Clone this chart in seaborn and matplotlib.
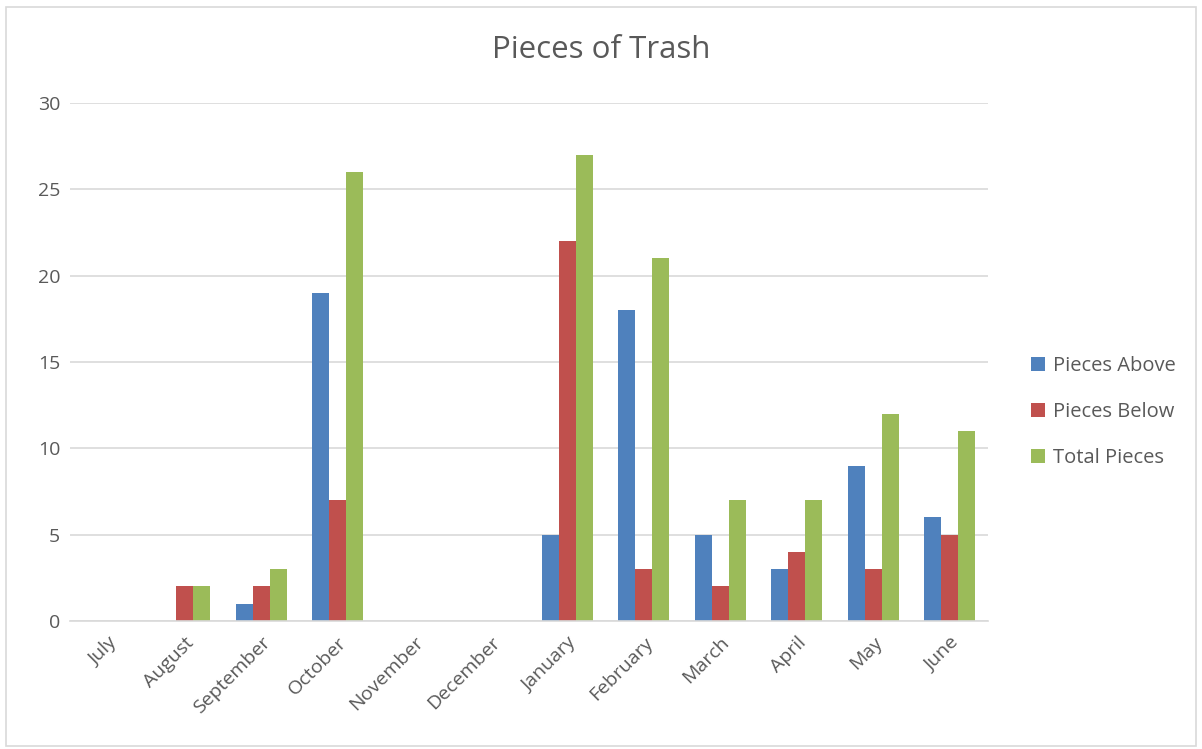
import matplotlib
matplotlib.use("Agg")
import matplotlib.pyplot as plt
import seaborn as sns
import pandas as pd
from matplotlib.patches import Rectangle

months = ["July", "August", "September", "October", "November", "December",
          "January", "February", "March", "April", "May", "June"]
pieces_above = [0, 0, 1, 19, 0, 0, 5, 18, 5, 3, 9, 6]
pieces_below = [0, 2, 2, 7, 0, 0, 22, 3, 2, 4, 3, 5]
total_pieces = [0, 2, 3, 26, 0, 0, 27, 21, 7, 7, 12, 11]
series_names = ["Pieces Above", "Pieces Below", "Total Pieces"]
colors = ["#4F81BD", "#C0504D", "#9BBB59"]
yticks = [0, 5, 10, 15, 20, 25, 30]

rows = []
for name, vals in zip(series_names, [pieces_above, pieces_below, total_pieces]):
    for m, v in zip(months, vals):
        rows.append({"Month": m, "Series": name, "Value": v})
df = pd.DataFrame(rows)

sns.set_theme(style="white")
plt.rcParams['font.family'] = ['Open Sans', 'DejaVu Sans']
text_color = "#595959"

W, H = 1202, 749
fig = plt.figure(figsize=(W / 100, H / 100), dpi=100)
ax = fig.add_axes([70 / W, 1 - 621 / H, (988 - 70) / W, (621 - 103) / H])

sns.barplot(data=df, x="Month", y="Value", hue="Series", order=months,
            hue_order=series_names, palette=colors, width=0.67, gap=0,
            saturation=1, ax=ax, errorbar=None, linewidth=0)

ax.set_ylim(0, 30)
ax.set_xlim(-0.5, 11.5)
ax.set_yticks(yticks)
ax.set_yticklabels([str(t) for t in yticks], fontsize=14, color=text_color)
ax.yaxis.grid(True, color="#D9D9D9", linewidth=1.2)
ax.set_axisbelow(True)
for s in ["top", "right", "left"]:
    ax.spines[s].set_visible(False)
ax.spines["bottom"].set_color("#D9D9D9")
ax.spines["bottom"].set_linewidth(1.2)
ax.tick_params(axis="x", length=0, pad=9)
ax.tick_params(axis="y", length=0, pad=7)
ax.set_xticks(range(len(months)))
ax.set_xticklabels(months, rotation=45, ha="right", rotation_mode="anchor",
                   fontsize=14, color=text_color)
ax.set_xlabel("")
ax.set_ylabel("")

fig.text(0.5, 1 - 50 / H, "Pieces of Trash", ha="center", va="center",
         fontsize=22.5, color=text_color)

leg = ax.legend(loc="center left", bbox_to_anchor=(1023 / W, 1 - 412 / H),
                bbox_transform=fig.transFigure, frameon=False, fontsize=14.5,
                handlelength=0.7, handleheight=0.7, handletextpad=0.4,
                labelspacing=1.3, borderaxespad=0)
for t in leg.get_texts():
    t.set_color(text_color)

fig.patches.append(Rectangle((6 / W, 3 / H), (1196 - 6) / W, (744 - 5) / H,
                             transform=fig.transFigure, fill=False,
                             edgecolor="#D9D9D9", linewidth=1.2))

fig.savefig("out.png", dpi=100, facecolor="white")
